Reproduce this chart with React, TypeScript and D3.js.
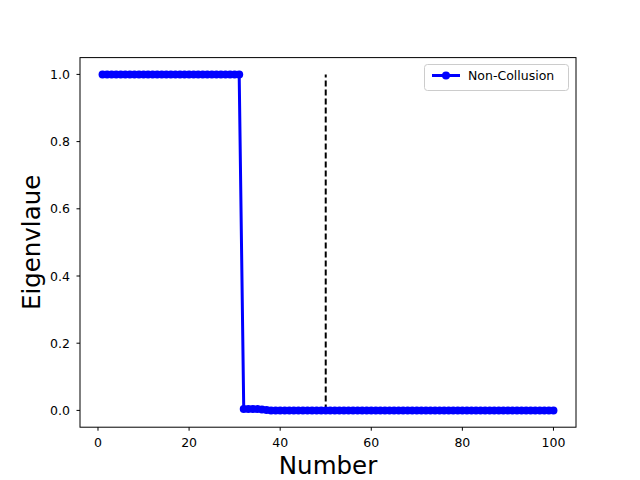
import React from "react";
import * as d3 from "d3";

const xs: number[] = Array.from({ length: 100 }, (_, i) => i + 1);
const highCount = 31;
const tailValues: number[] = [0.004, 0.004, 0.004, 0.004, 0.003, 0.001];
const values: number[] = xs.map((x) =>
  x <= highCount ? 1.0 : x - highCount - 1 < tailValues.length ? tailValues[x - highCount - 1] : 0.0
);
const xTicks: number[] = [0, 20, 40, 60, 80, 100];
const yTicks: number[] = [0.0, 0.2, 0.4, 0.6, 0.8, 1.0];
const dashX = 50;
const seriesName = "Non-Collusion";

export default function App() {
  const W = 640, H = 480;
  const left = 80, right = 576, top = 57.6, bottom = 427.2;
  const x = d3.scaleLinear().domain([1 - 4.95, 100 + 4.95]).range([left, right]);
  const y = d3.scaleLinear().domain([-0.05, 1.05]).range([bottom, top]);
  const line = d3.line<number>().x((_, i) => x(xs[i])).y((d) => y(d));
  const blue = "#0000ff";
  const font = "DejaVu Sans, sans-serif";
  const fs = 12.5;
  return (
    <svg width={W} height={H} style={{ position: "absolute", left: 0, top: 0, background: "#fff" }}>
      <rect x={0} y={0} width={W} height={H} fill="#fff" />
      <line x1={x(dashX)} x2={x(dashX)} y1={y(0)} y2={y(1)} stroke="#000" strokeWidth={2} strokeDasharray="6,3" />
      <path d={line(values) || ""} fill="none" stroke={blue} strokeWidth={3} strokeLinejoin="round" />
      {values.map((v, i) => (
        <circle key={i} cx={x(xs[i])} cy={y(v)} r={4} fill={blue} />
      ))}
      <rect x={left} y={top} width={right - left} height={bottom - top} fill="none" stroke="#000" strokeWidth={1} />
      {xTicks.map((t) => (
        <g key={t}>
          <line x1={x(t)} x2={x(t)} y1={bottom} y2={bottom + 3.5} stroke="#000" />
          <text x={x(t)} y={bottom + 16} textAnchor="middle" fontSize={fs} fontFamily={font} dominantBaseline="middle">{t}</text>
        </g>
      ))}
      {yTicks.map((t) => (
        <g key={t}>
          <line x1={left - 3.5} x2={left} y1={y(t)} y2={y(t)} stroke="#000" />
          <text x={left - 10} y={y(t)} textAnchor="end" fontSize={fs} fontFamily={font} dominantBaseline="central">{t.toFixed(1)}</text>
        </g>
      ))}
      <text x={(left + right) / 2} y={474} textAnchor="middle" fontSize={24.5} fontFamily={font}>Number</text>
      <text transform={`translate(40,${(top + bottom) / 2}) rotate(-90)`} textAnchor="middle" fontSize={24.5} fontFamily={font}>Eigenvlaue</text>
      <g>
        <rect x={424.5} y={64.5} width={144} height={26} rx={3} fill="#fff" stroke="#ccc" />
        <line x1={432} x2={460} y1={75.5} y2={75.5} stroke={blue} strokeWidth={3} />
        <circle cx={446} cy={75.5} r={4} fill={blue} />
        <text x={468} y={75.5} fontSize={fs} fontFamily={font} dominantBaseline="central">{seriesName}</text>
      </g>
    </svg>
  );
}
